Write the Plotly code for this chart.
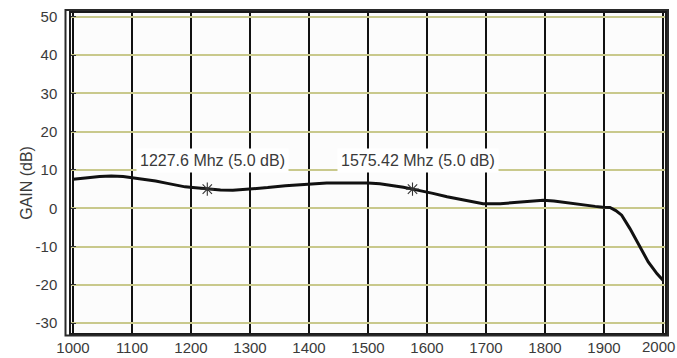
import plotly.graph_objects as go

# Measured gain response of the amplifier across the band
freq_mhz = [1000, 1010, 1025, 1045, 1065, 1085, 1100, 1120, 1140, 1160, 1175, 1190,
            1203, 1215, 1231, 1250, 1271, 1290, 1310, 1330, 1360, 1400, 1430, 1458,
            1480, 1500, 1520, 1542, 1560, 1575.42, 1590, 1610, 1634, 1656, 1675,
            1695, 1724, 1752, 1775, 1797, 1815, 1837, 1865, 1885, 1898, 1910, 1920,
            1930, 1944, 1961, 1975, 1990, 1997, 2000]
gain_db = [7.6, 7.8, 8.0, 8.3, 8.4, 8.3, 8.0, 7.6, 7.1, 6.5, 6.0, 5.6,
           5.4, 5.2, 5.0, 4.8, 4.7, 4.9, 5.1, 5.4, 5.9, 6.4, 6.6, 6.6,
           6.7, 6.6, 6.4, 6.0, 5.5, 5.0, 4.6, 3.9, 3.0, 2.3, 1.7,
           1.2, 1.2, 1.5, 1.9, 2.1, 1.9, 1.4, 0.8, 0.5, 0.3, 0.2, -0.6,
           -1.8, -5.3, -10.1, -14.0, -17.1, -18.4, -18.8]

# Marker frequencies and their readouts
marker_freq = [1227.6, 1575.42]
marker_gain = [5.0, 5.0]
marker_text = ["1227.6 Mhz (5.0 dB)", "1575.42 Mhz (5.0 dB)"]
marker_label_x = [1237, 1584]
marker_label_y = [12.5, 12.5]

x_ticks = [1000, 1100, 1200, 1300, 1400, 1500, 1600, 1700, 1800, 1900, 2000]
y_ticks = [-30, -20, -10, 0, 10, 20, 30, 40, 50]

FONT = "Liberation Sans, Arial, sans-serif"
TEXT = "#3a3a3a"

fig = go.Figure()

fig.add_trace(go.Scatter(
    x=freq_mhz, y=gain_db, mode="lines",
    line=dict(color="#111111", width=3),
    hoverinfo="skip", showlegend=False,
))

fig.add_trace(go.Scatter(
    x=marker_freq, y=marker_gain, mode="markers",
    marker=dict(symbol="asterisk-open", size=11, color="#333333",
                line=dict(color="#333333", width=1.1)),
    hoverinfo="skip", showlegend=False,
))

for tx, ty, txt in zip(marker_label_x, marker_label_y, marker_text):
    fig.add_annotation(
        x=tx, y=ty, text=txt, showarrow=False,
        font=dict(family=FONT, size=16, color=TEXT),
        bgcolor="#ffffff", borderpad=3,
    )

# The last tick label would run past the page edge, so it is drawn as an
# annotation nudged left to stay on the page.
last_tick = x_ticks[-1]
tick_text = [str(v) for v in x_ticks[:-1]] + [""]
fig.add_annotation(
    x=last_tick, xref="x", y=0, yref="paper", yanchor="top",
    xshift=-4, yshift=-3,
    text=str(last_tick), showarrow=False,
    font=dict(family=FONT, size=15, color=TEXT),
)

# Axis title placed beside the tick labels
fig.add_annotation(
    xref="paper", yref="paper", x=-0.093, y=0.47,
    text="GAIN (dB)", textangle=-90, showarrow=False,
    font=dict(family=FONT, size=16, color=TEXT),
)

# Outer frame around the plotting area
fig.add_shape(
    type="rect", xref="paper", yref="paper",
    x0=-5.5 / 594, x1=1 + 3 / 594, y0=-2.5 / 320, y1=1 + 3 / 320,
    line=dict(color="#2a2a2a", width=2), fillcolor="rgba(0,0,0,0)",
    layer="above",
)

fig.update_layout(
    width=677, height=358,
    margin=dict(l=71, r=12, t=13, b=25),
    paper_bgcolor="#ffffff",
    plot_bgcolor="#fcfcfc",
    font=dict(family=FONT, size=15, color=TEXT),
)

fig.update_xaxes(
    range=[996.6, 2003.4], automargin=False,
    tickvals=x_ticks, ticktext=tick_text,
    showgrid=True, gridcolor="#111111", gridwidth=1.5,
    showline=True, linecolor="#1a1a1a", linewidth=1.5, mirror=True,
    ticks="", zeroline=False,
    tickfont=dict(family=FONT, size=15, color=TEXT),
)

fig.update_yaxes(
    range=[-32.56, 50.99], automargin=False,
    tickvals=y_ticks, ticktext=[str(v) for v in y_ticks],
    showgrid=True, gridcolor="#c9c98c", gridwidth=1.5,
    showline=True, linecolor="#1a1a1a", linewidth=1.5, mirror=True,
    ticks="inside", ticklen=5, tickcolor="#333333", tickwidth=1,
    ticklabelstandoff=9,
    zeroline=False,
    tickfont=dict(family=FONT, size=15, color=TEXT),
)

fig.write_html("out.html")
